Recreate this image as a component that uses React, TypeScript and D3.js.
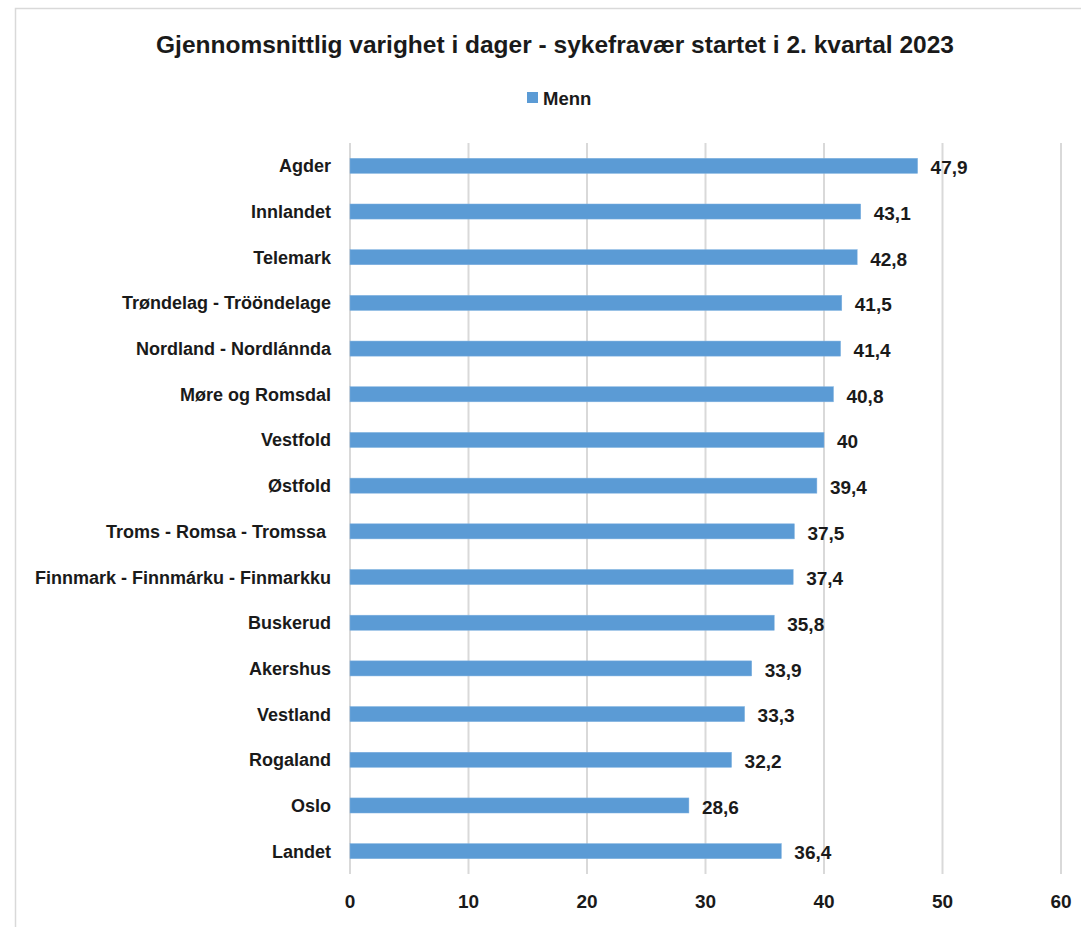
import React from "react";
import * as d3 from "d3";

const categories = [
  "Agder",
  "Innlandet",
  "Telemark",
  "Trøndelag - Trööndelage",
  "Nordland - Nordlánnda",
  "Møre og Romsdal",
  "Vestfold",
  "Østfold",
  "Troms - Romsa - Tromssa ",
  "Finnmark - Finnmárku - Finmarkku",
  "Buskerud",
  "Akershus",
  "Vestland",
  "Rogaland",
  "Oslo",
  "Landet",
];
const menn = [47.9, 43.1, 42.8, 41.5, 41.4, 40.8, 40, 39.4, 37.5, 37.4, 35.8, 33.9, 33.3, 32.2, 28.6, 36.4];
const xTicks = [0, 10, 20, 30, 40, 50, 60];
const title = "Gjennomsnittlig varighet i dager - sykefravær startet i 2. kvartal 2023";
const seriesName = "Menn";

const W = 1081;
const H = 927;
const FONT = "'Liberation Sans', Arial, sans-serif";
const BAR = "#5B9BD5";
const GRID = "#d9d9d9";
const INK = "#1a1a1a";

export default function App() {
  const x = d3.scaleLinear().domain([0, 60]).range([350, 1061]);
  const y = d3
    .scaleBand<string>()
    .domain(categories)
    .range([143, 874])
    .paddingInner(0.67)
    .paddingOuter(0.335);
  const fmt = (v: number) => String(v).replace(".", ",");

  return (
    <svg
      width={W}
      height={H}
      style={{ position: "absolute", left: 0, top: 0, background: "#fff" }}
      fontFamily={FONT}
    >
      <rect x={15.5} y={8.5} width={W + 20} height={H + 20} fill="#fff" stroke={GRID} strokeWidth={1.5} />
      <text x={555} y={53} textAnchor="middle" fontSize={24.5} fontWeight="bold" fill={INK}>
        {title}
      </text>
      <rect x={527} y={92} width={11} height={11} fill={BAR} />
      <text x={543} y={105} fontSize={18.5} fontWeight="bold" fill={INK}>
        {seriesName}
      </text>
      {xTicks.map((t) => (
        <g key={t}>
          <line x1={x(t)} x2={x(t)} y1={143} y2={874} stroke={GRID} strokeWidth={2} />
          <text x={x(t)} y={908} textAnchor="middle" fontSize={19} fontWeight="bold" fill={INK}>
            {t}
          </text>
        </g>
      ))}
      {categories.map((c, i) => {
        const yc = (y(c) as number) + y.bandwidth() / 2;
        return (
          <g key={c}>
            <rect
              x={x(0)}
              y={y(c)}
              width={x(menn[i]) - x(0)}
              height={y.bandwidth()}
              fill={BAR}
              stroke="#7fb1e0"
              strokeWidth={0.5}
            />
            <text x={331} y={yc} dy="0.36em" textAnchor="end" fontSize={18} fontWeight="bold" fill={INK} style={{ whiteSpace: "pre" }}>
              {c}
            </text>
            <text x={x(menn[i]) + 13} y={yc + 1.5} dy="0.36em" fontSize={19} fontWeight="bold" fill={INK}>
              {fmt(menn[i])}
            </text>
          </g>
        );
      })}
    </svg>
  );
}
